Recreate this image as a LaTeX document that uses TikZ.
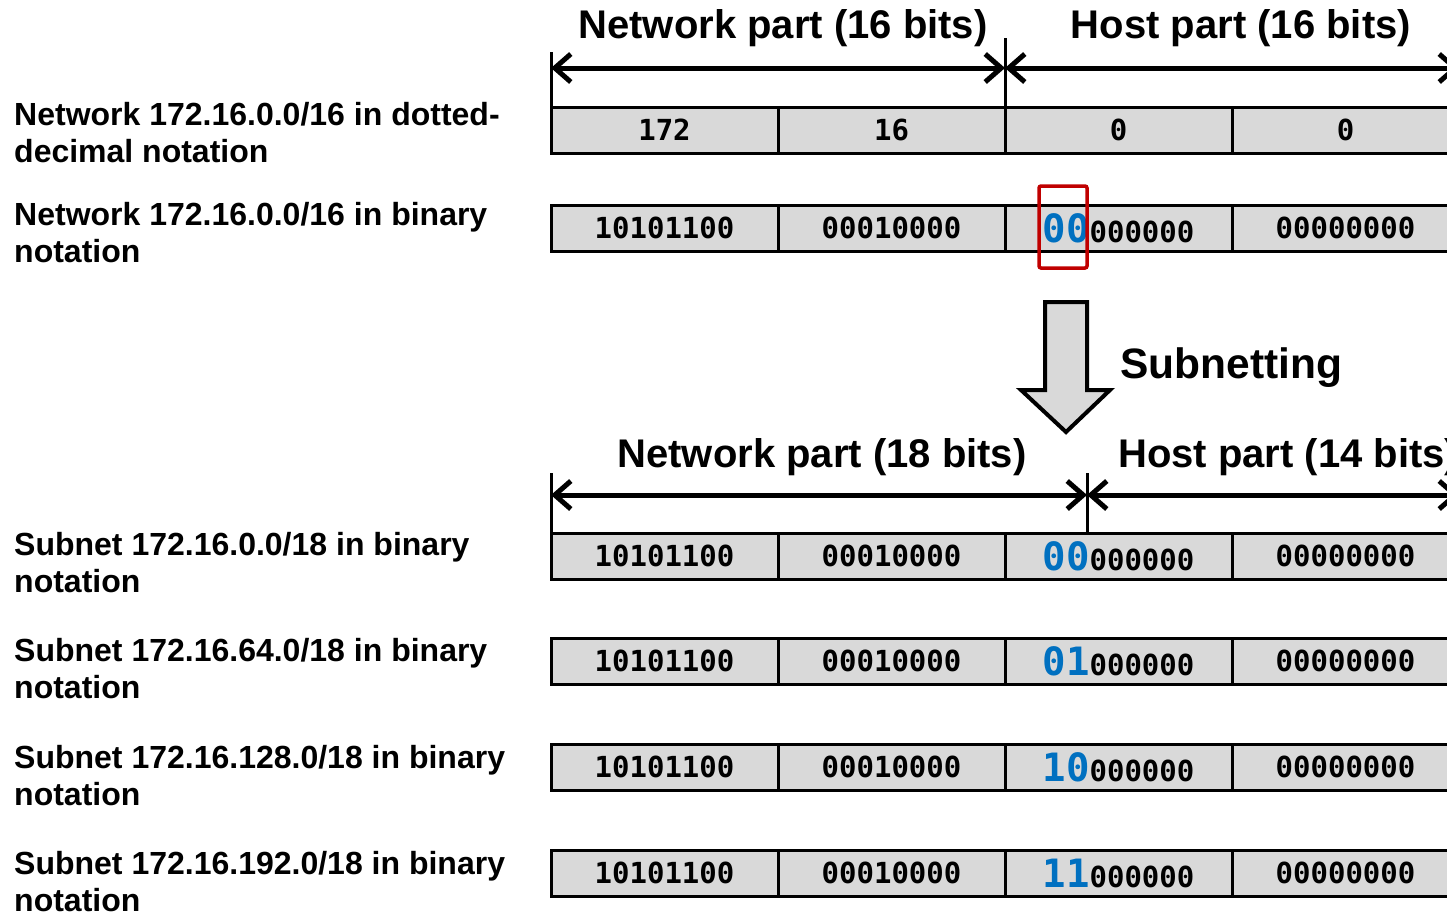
\documentclass[tikz,border=0pt]{standalone}
\usepackage{fontspec}
\setmainfont{Liberation Sans}
\newfontfamily\bitsfont{DejaVu Sans Mono}
\usetikzlibrary{arrows.meta}
\definecolor{cellgray}{HTML}{D9D9D9}
\definecolor{bitblue}{HTML}{0070C0}
\definecolor{markred}{HTML}{C00000}
\newcommand\subbits[1]{{\color{bitblue}\fontsize{39}{39}\selectfont #1}}
\tikzset{
  cell/.style={draw, line width=3pt, fill=cellgray, minimum width=227pt,
    minimum height=46pt, inner sep=0pt, outer sep=0pt,
    font=\bitsfont\bfseries\fontsize{29}{29}\selectfont},
  rowlabel/.style={anchor=north west, align=left, inner sep=0pt,
    font=\bfseries\fontsize{32}{37}\selectfont},
  parttitle/.style={anchor=base, inner sep=0pt, font=\bfseries\fontsize{40}{40}\selectfont},
  dimline/.style={line width=5pt, {Straight Barb[length=16pt,width=28pt]}-{Straight Barb[length=16pt,width=28pt]}},
  tickline/.style={line width=3pt},
}
\begin{document}
\begin{tikzpicture}[x=1pt,y=-1pt]
        \useasboundingbox (0,0) rectangle (1447,911);
        \clip (0,0) rectangle (1447,911);

        \node[rowlabel] (lab1) at (14,102) {Network 172.16.0.0/16 in dotted-\\decimal notation};
        \node[rowlabel] (lab2) at (14,202) {Network 172.16.0.0/16 in binary\\notation};
        \node[rowlabel] (lab3) at (14,532) {Subnet 172.16.0.0/18 in binary\\notation};
        \node[rowlabel] (lab4) at (14,638) {Subnet 172.16.64.0/18 in binary\\notation};
        \node[rowlabel] (lab5) at (14,745) {Subnet 172.16.128.0/18 in binary\\notation};
        \node[rowlabel] (lab6) at (14,851) {Subnet 172.16.192.0/18 in binary\\notation};

        \node[cell] (r1-1) at (664.5,130) {172};
        \node[cell] (r1-2) at (891.5,130) {16};
        \node[cell] (r1-3) at (1118.5,130) {0};
        \node[cell] (r1-4) at (1345.5,130) {0};

        \node[cell] (r2-1) at (664.5,228) {10101100};
        \node[cell] (r2-2) at (891.5,228) {00010000};
        \node[cell] (r2-3) at (1118.5,228) {\subbits{00}000000};
        \node[cell] (r2-4) at (1345.5,228) {00000000};

        \foreach \r/\y/\b in {3/556/00,4/661/01,5/767/10,6/873/11} {
          \node[cell] (r\r-1) at (664.5,\y) {10101100};
          \node[cell] (r\r-2) at (891.5,\y) {00010000};
          \node[cell] (r\r-3) at (1118.5,\y) {\subbits{\b}000000};
          \node[cell] (r\r-4) at (1345.5,\y) {00000000};
        }

        \draw[markred, line width=3.5pt, rounded corners=2pt] (1039,186) rectangle (1087,268);

        \coordinate (t1a) at (551,52);
        \coordinate (t1b) at (1005,38);
        \coordinate (a1l) at (551,68);
        \coordinate (a1m) at (1005,68);
        \coordinate (a1r) at (1459,68);
        \draw[tickline] (t1a) -- (r1-1.north west);
        \draw[tickline] (t1b) -- (r1-3.north west);
        \draw[dimline] (a1l) -- (a1m);
        \draw[dimline] (a1m) -- (a1r);
        \node[parttitle] (net16) at (783,38) {Network part (16 bits)};
        \node[parttitle] (host16) at (1241,38) {Host part (16 bits)};

        \draw[line width=4pt, fill=cellgray, line join=miter]
          (1045,302) -- (1087,302) -- (1087,390) -- (1110,390) -- (1066,432)
          -- (1021,390) -- (1045,390) -- cycle;
        \node[anchor=base west, inner sep=0pt, font=\bfseries\fontsize{42.5}{42.5}\selectfont] (subnetting) at (1120,378) {Subnetting};

        \coordinate (t2a) at (551,473);
        \coordinate (t2b) at (1087,473);
        \coordinate (a2l) at (551,495);
        \coordinate (a2m) at (1087,495);
        \coordinate (a2r) at (1459,495);
        \draw[tickline] (t2a) -- (r3-1.north west);
        \draw[tickline] (t2b) -- (1087,533);
        \draw[dimline] (a2l) -- (a2m);
        \draw[dimline] (a2m) -- (a2r);
        \node[parttitle] (net18) at (822,467) {Network part (18 bits)};
        \node[parttitle, anchor=base west] (host14) at (1118,467) {Host part (14 bits)};
      \end{tikzpicture}
\end{document}
